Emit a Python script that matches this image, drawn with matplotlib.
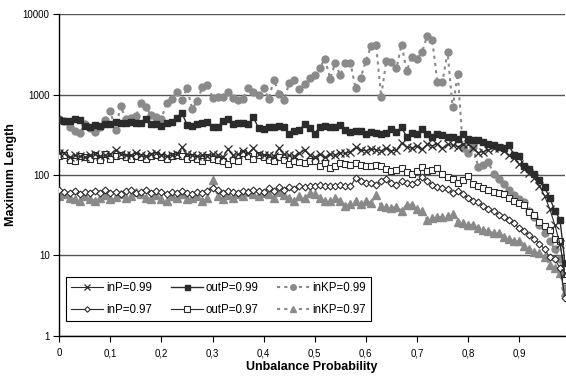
import numpy as np
import matplotlib.pyplot as plt
from matplotlib.ticker import FixedLocator, NullLocator

plt.rcParams.update({
    'font.family': ['Liberation Sans', 'DejaVu Sans'],
    'font.size': 7,
})

# unbalance probability, 0.00 .. 0.99
prob = np.arange(100) / 100

in_p99 = [190, 185, 165, 175, 170, 165, 175, 180, 170, 175,
          180, 205, 180, 175, 175, 190, 175, 170, 180, 190,
          175, 170, 175, 180, 220, 180, 175, 170, 175, 170,
          180, 175, 165, 210, 175, 180, 200, 185, 215, 180,
          175, 175, 170, 215, 180, 175, 170, 185, 205, 175,
          165, 180, 165, 180, 175, 190, 185, 195, 220, 205,
          200, 210, 205, 200, 215, 200, 205, 250, 225, 215,
          230, 210, 240, 230, 245, 215, 240, 235, 225, 240,
          245, 215, 190, 195, 205, 215, 215, 200, 175, 163,
          137, 120, 105, 92, 73, 55, 38, 24, 14, 6]

out_p99 = [480, 470, 470, 490, 480, 410, 400, 420, 410, 430,
           425, 450, 440, 445, 460, 440, 440, 500, 425, 425,
           410, 440, 450, 515, 590, 420, 410, 425, 440, 460,
           390, 390, 475, 490, 425, 440, 440, 425, 520, 380,
           370, 400, 395, 410, 390, 325, 355, 360, 430, 380,
           325, 400, 410, 390, 400, 420, 360, 345, 350, 355,
           325, 340, 330, 320, 330, 370, 340, 390, 300, 330,
           320, 370, 320, 300, 325, 310, 300, 295, 280, 325,
           280, 270, 270, 255, 245, 235, 220, 215, 235, 178,
           170, 130, 120, 103, 86, 70, 52, 36, 28, 8]

in_kp99 = [490, 470, 390, 350, 330, 430, 380, 340, 400, 480,
           620, 360, 720, 500, 510, 540, 780, 690, 550, 530,
           500, 790, 880, 1080, 860, 1200, 670, 820, 1250, 1330,
           910, 940, 920, 1090, 910, 860, 890, 1220, 1080, 1000,
           1190, 890, 1530, 1020, 860, 1380, 1530, 1160, 1370, 1620,
           1740, 2130, 2800, 1580, 2450, 1740, 2450, 2450, 1190, 1620,
           2600, 3950, 4180, 940, 2600, 2500, 2130, 4180, 1950, 2960,
           2750, 3360, 5300, 4730, 1440, 1440, 3360, 690, 1820, 215,
           190, 225, 125, 133, 145, 103, 90, 77, 66, 57,
           50, 46, 36, 30, 24, 19, 15, 12, 9, 4]

in_p97 = [65, 62, 60, 63, 58, 62, 60, 63, 60, 66,
          60, 62, 58, 63, 65, 60, 62, 66, 60, 64,
          62, 58, 62, 60, 63, 60, 58, 62, 60, 64,
          68, 66, 60, 64, 62, 60, 64, 62, 66, 63,
          62, 68, 64, 70, 66, 70, 67, 73, 70, 74,
          72, 76, 72, 74, 72, 76, 74, 72, 92, 84,
          80, 80, 76, 84, 88, 80, 76, 84, 80, 77,
          82, 95, 84, 76, 71, 69, 67, 59, 63, 58,
          52, 48, 46, 41, 38, 36, 32, 30, 28, 25,
          22, 20, 18, 16, 14, 12, 9.5, 9, 7, 3]

out_p97 = [172, 175, 155, 150, 170, 165, 160, 175, 155, 180,
           160, 170, 175, 165, 160, 170, 165, 160, 170, 175,
           165, 160, 170, 175, 170, 158, 165, 160, 150, 165,
           160, 155, 148, 137, 155, 150, 188, 170, 160, 175,
           165, 155, 150, 165, 155, 137, 150, 145, 140, 150,
           148, 130, 140, 122, 130, 140, 138, 135, 140, 132,
           130, 128, 135, 130, 118, 112, 115, 122, 109, 103,
           112, 125, 112, 115, 122, 103, 95, 89, 80, 87,
           97, 77, 73, 69, 65, 62, 59, 58, 52, 48,
           45, 43, 35, 32, 26, 23, 21, 16, 15, 5]

in_kp97 = [55, 58, 52, 50, 48, 55, 50, 48, 52, 56,
           50, 54, 58, 52, 55, 62, 58, 52, 50, 56,
           50, 48, 55, 52, 58, 50, 52, 55, 48, 52,
           87, 55, 50, 56, 52, 58, 55, 62, 58, 55,
           60, 58, 52, 62, 56, 52, 48, 55, 52, 60,
           58, 52, 47, 48, 52, 48, 41, 44, 47, 44,
           48, 45, 56, 41, 40, 39, 40, 36, 43, 43,
           38, 36, 28, 29, 30, 30, 31, 33, 26, 25,
           24, 24, 22, 21, 20, 19, 19, 17, 16, 15,
           15, 13, 12, 11, 10.6, 9.5, 7.7, 7, 6, 3.5]

x_ticks = [0, 0.1, 0.2, 0.3, 0.4, 0.5, 0.6, 0.7, 0.8, 0.9]
x_tick_labels = ['0', '0,1', '0,2', '0,3', '0,4', '0,5', '0,6', '0,7', '0,8', '0,9']
y_ticks = [1, 10, 100, 1000, 10000]

GREY = '#8a8a8a'
DARK = '#2b2b2b'

fig = plt.figure(figsize=(5.66, 3.77), dpi=100)
ax = fig.add_axes([0.1048, 0.1088, 0.8935, 0.854])

# knowledge-based series go underneath
l_kp99, = ax.plot(prob, in_kp99, ls=(0, (1.5, 2.0)), lw=1.5, color=GREY,
                  marker='o', ms=5, mfc=GREY, mec=GREY, zorder=2)
l_kp97, = ax.plot(prob, in_kp97, ls=(0, (1.5, 2.0)), lw=1.5, color=GREY,
                  marker='^', ms=5.5, mfc=GREY, mec=GREY, zorder=2)
l_out97, = ax.plot(prob, out_p97, '-', lw=0.8, color=DARK,
                   marker='s', ms=5, mfc='white', mec=DARK, mew=0.8, zorder=3)
l_in97, = ax.plot(prob, in_p97, '-', lw=0.8, color=DARK,
                  marker='D', ms=3.5, mfc='white', mec=DARK, mew=0.8, zorder=3)
l_in99, = ax.plot(prob, in_p99, '-', lw=0.8, color=DARK,
                  marker='x', ms=6, mec=DARK, mew=0.9, zorder=4)
l_out99, = ax.plot(prob, out_p99, '-', lw=1.0, color=DARK,
                   marker='s', ms=4.5, mfc=DARK, mec=DARK, zorder=4)

ax.set_yscale('log')
ax.set_ylim(1, 10000)
ax.set_xlim(0, 0.99)
ax.yaxis.set_major_locator(FixedLocator(y_ticks))
ax.yaxis.set_minor_locator(NullLocator())
ax.set_yticklabels([str(v) for v in y_ticks])
ax.set_xticks(x_ticks)
ax.set_xticklabels(x_tick_labels)
ax.tick_params(direction='out', length=4, width=0.8, colors='black', pad=3,
               labelsize=7)
ax.tick_params(axis='x', pad=5)

ax.grid(axis='y', color='#555555', lw=1.0)
ax.set_axisbelow(True)
for side in ('top', 'right'):
    ax.spines[side].set_visible(False)
for side in ('left', 'bottom'):
    ax.spines[side].set_linewidth(1.0)

ax.set_xlabel('Unbalance Probability', fontweight='bold', fontsize=9, labelpad=2)
ax.set_ylabel('Maximum Length', fontweight='bold', fontsize=9, labelpad=4)

handles = [l_in99, l_in97, l_out99, l_out97, l_kp99, l_kp97]
labels = ['inP=0.99', 'inP=0.97', 'outP=0.99', 'outP=0.97', 'inKP=0.99', 'inKP=0.97']
leg = ax.legend(handles, labels, ncol=3, loc='lower left',
                bbox_to_anchor=(0.013, 0.047), borderaxespad=0,
                fontsize=8.3, frameon=True, fancybox=False, edgecolor='black',
                framealpha=1, handlelength=2.8, handletextpad=0.25,
                columnspacing=1.6, labelspacing=0.85, markerscale=0.8,
                borderpad=0.45)
leg.get_frame().set_linewidth(0.8)

fig.savefig('out.png', dpi=100)
